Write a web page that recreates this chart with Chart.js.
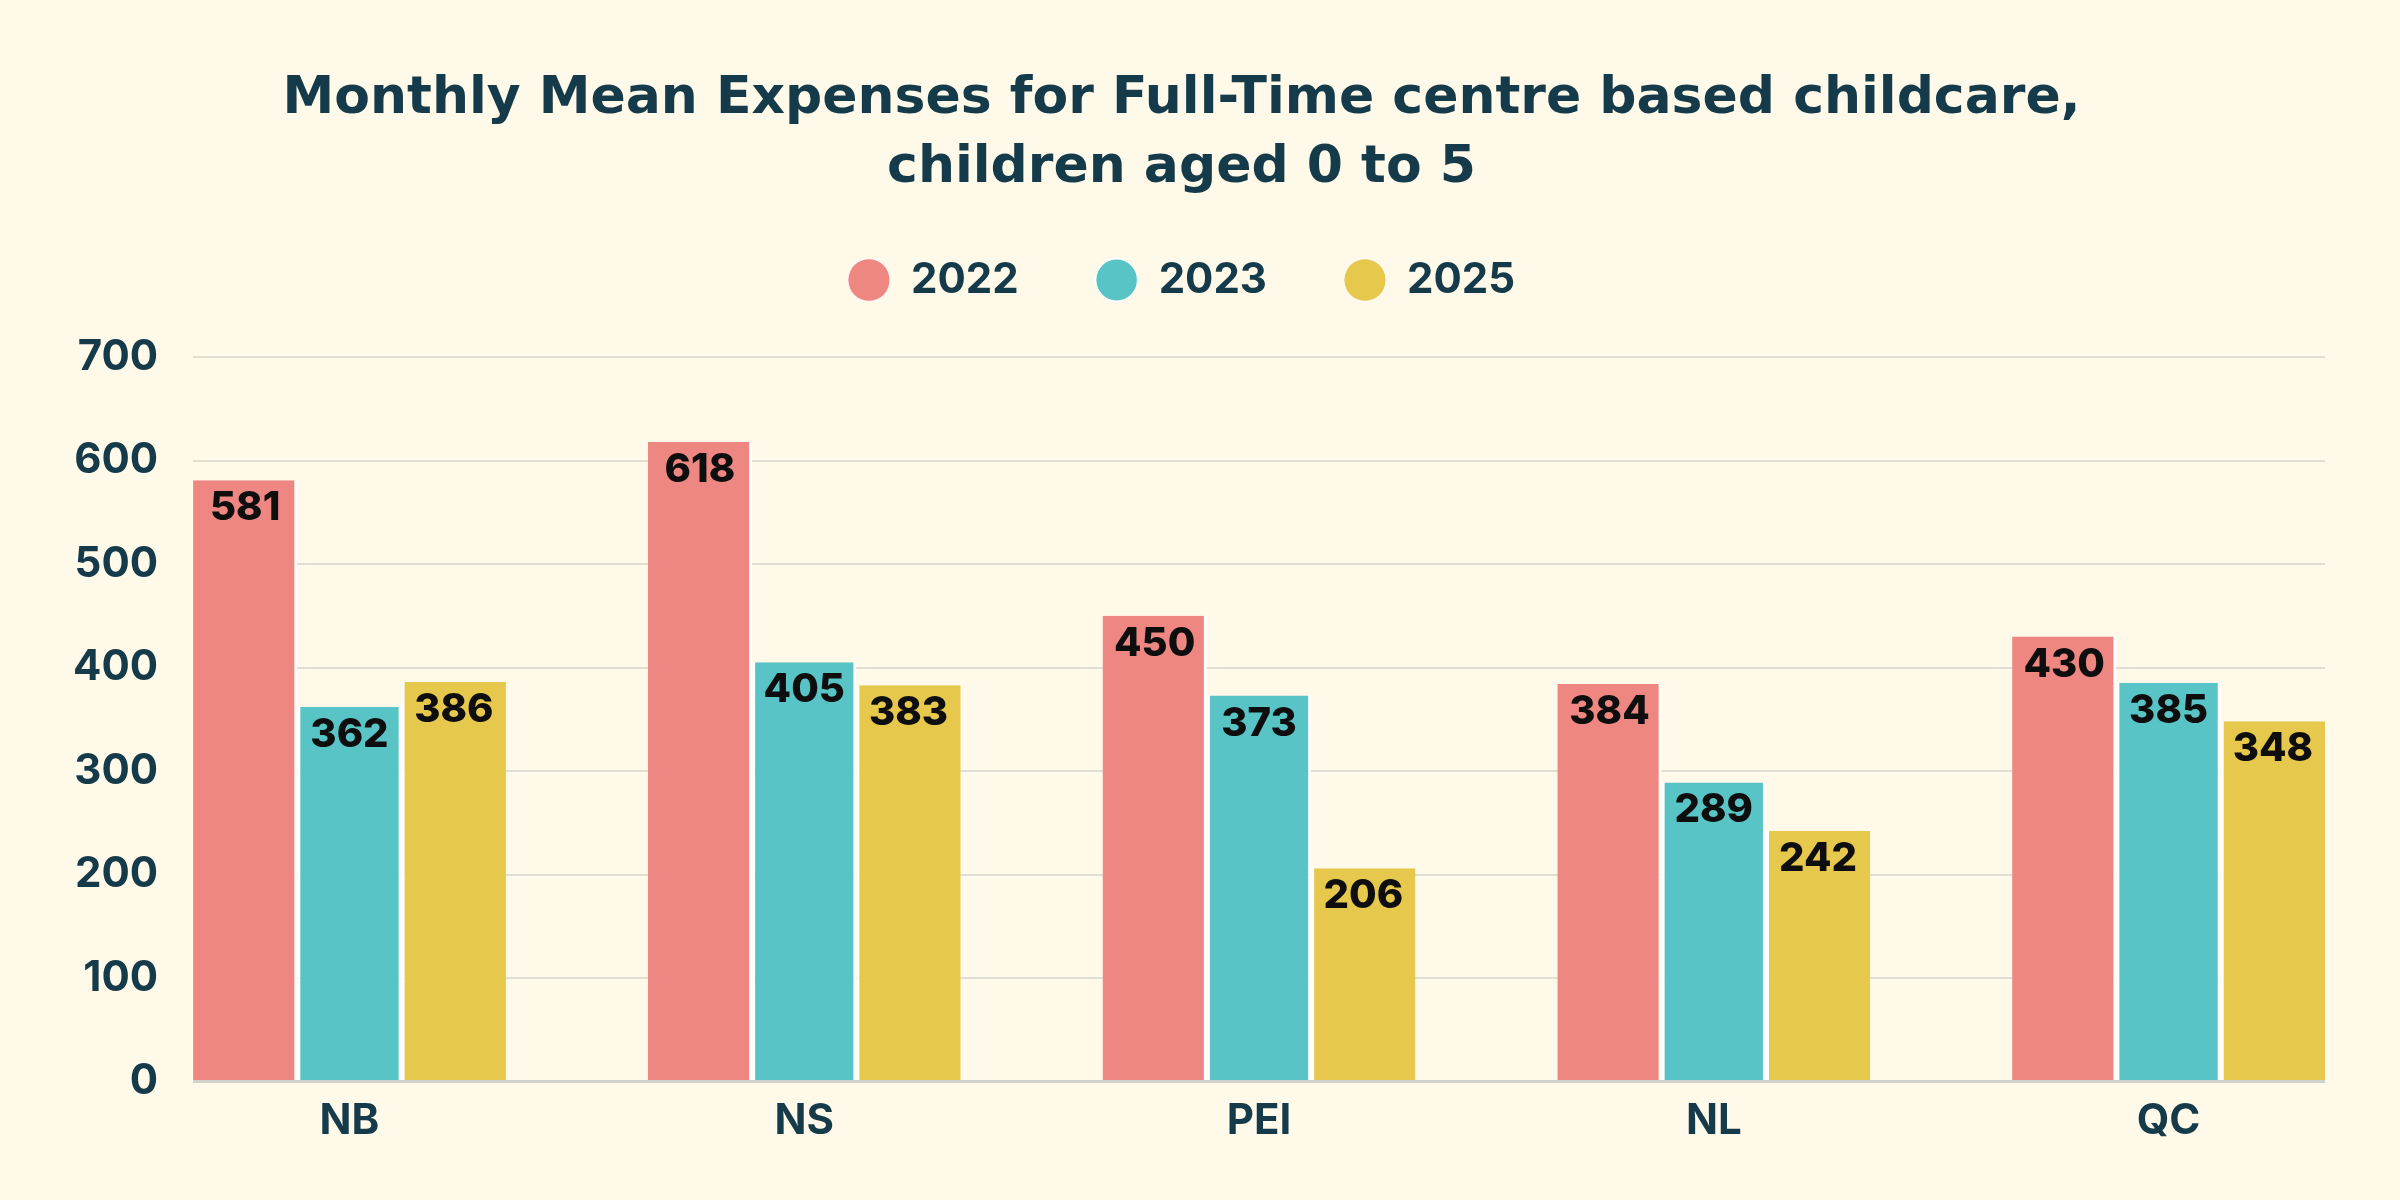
<!DOCTYPE html>
<html lang="en">
<head>
    <meta charset="UTF-8">
    <title>Monthly Mean Expenses for Full-Time centre based childcare</title>
    <script src="https://cdn.jsdelivr.net/npm/chart.js"></script>
    <style>
        html, body { margin: 0; padding: 0; background: #fff9ea; }
        #chart-container { width: 2400px; height: 1200px; }
    </style>
</head>
<body>
    <div id="chart-container">
        <canvas id="myChart"></canvas>
    </div>

    <script>
        // data
        const provinces = ['NB', 'NS', 'PEI', 'NL', 'QC'];
        const years = ['2022', '2023', '2025'];
        const values2022 = [581, 618, 450, 384, 430];
        const values2023 = [362, 405, 373, 289, 385];
        const values2025 = [386, 383, 206, 242, 348];
        const yMin = 0, yMax = 700, yStep = 100;

        const TEXT = '#153b4a';
        const FONT = 'Inter, "Noto Sans", sans-serif';
        const TITLE_FONT = '"DejaVu Sans", Inter, sans-serif';
        const colors = ['#ee8782', '#58c4c5', '#e6c84c'];
        // white divider between bars of one group
        const borders = [
            { left: 0, right: 3, top: 0, bottom: 0 },
            { left: 3, right: 3, top: 0, bottom: 0 },
            { left: 3, right: 0, top: 0, bottom: 0 }
        ];

        const seriesValues = [values2022, values2023, values2025];
        const datasets = years.map((year, k) => ({
            label: year,
            data: seriesValues[k].map((v, i) => ({ x: i, y: v })),
            backgroundColor: colors[k],
            borderColor: '#ffffff',
            borderWidth: borders[k],
            borderSkipped: false,
            barPercentage: 1.0,
            categoryPercentage: 0.688
        }));

        const background = {
            id: 'background',
            beforeDraw(chart) {
                const c = chart.ctx;
                c.save();
                c.fillStyle = '#fff9ea';
                c.fillRect(0, 0, chart.width, chart.height);
                c.restore();
            }
        };

        // value printed inside the top of each bar
        const barValues = {
            id: 'barValues',
            afterDatasetsDraw(chart) {
                const c = chart.ctx;
                c.save();
                c.font = '800 40px ' + FONT;
                c.fillStyle = '#0e0e0e';
                c.textAlign = 'center';
                c.textBaseline = 'middle';
                chart.data.datasets.forEach((ds, k) => {
                    chart.getDatasetMeta(k).data.forEach((bar, i) => {
                        c.fillText(ds.data[i].y, bar.x, bar.y + 28);
                    });
                });
                c.restore();
            }
        };

        const ctx = document.getElementById('myChart').getContext('2d');
        const myChart = new Chart(ctx, {
            type: 'bar',
            data: { datasets: datasets },
            options: {
                responsive: true,
                maintainAspectRatio: false,
                devicePixelRatio: 1,
                animation: false,
                layout: { padding: { left: 38, right: 75, top: 0, bottom: 46 } },
                plugins: {
                    title: {
                        display: true,
                        text: ['Monthly Mean Expenses for Full-Time centre based childcare,', 'children aged 0 to 5'],
                        color: TEXT,
                        font: { family: TITLE_FONT, size: 52, weight: 700, lineHeight: 1.327 },
                        padding: { top: 65, bottom: -21 }
                    },
                    // empty spacer between the legend and the plot
                    subtitle: {
                        display: true,
                        text: '',
                        weight: 500,
                        font: { size: 10, lineHeight: 1.2 },
                        padding: { top: 34, bottom: 0 }
                    },
                    legend: {
                        position: 'top',
                        labels: {
                            usePointStyle: true,
                            pointStyle: 'circle',
                            boxHeight: 30,
                            pointStyleWidth: 42,
                            padding: 77,
                            color: TEXT,
                            font: { family: FONT, size: 42, weight: 700 }
                        }
                    },
                    tooltip: { enabled: false }
                },
                scales: {
                    x: {
                        type: 'linear',
                        offset: false,
                        min: -0.344,
                        max: provinces.length - 1 + 0.344,
                        grid: { display: false },
                        border: { display: false },
                        ticks: {
                            stepSize: 1,
                            includeBounds: false,
                            autoSkip: false,
                            maxRotation: 0,
                            padding: 7,
                            color: TEXT,
                            font: { family: FONT, size: 42, weight: 700 },
                            callback: v => Number.isInteger(v) ? provinces[v] : ''
                        }
                    },
                    y: {
                        min: yMin,
                        max: yMax,
                        border: { display: false },
                        grid: {
                            drawTicks: false,
                            color: c => c.tick.value === 0 ? '#d0d2cb' : '#e0dfd4',
                            lineWidth: c => c.tick.value === 0 ? 3 : 2
                        },
                        ticks: {
                            stepSize: yStep,
                            padding: 35,
                            color: TEXT,
                            font: { family: FONT, size: 42, weight: 700 }
                        }
                    }
                }
            },
            plugins: [background, barValues]
        });
    </script>
</body>
</html>
